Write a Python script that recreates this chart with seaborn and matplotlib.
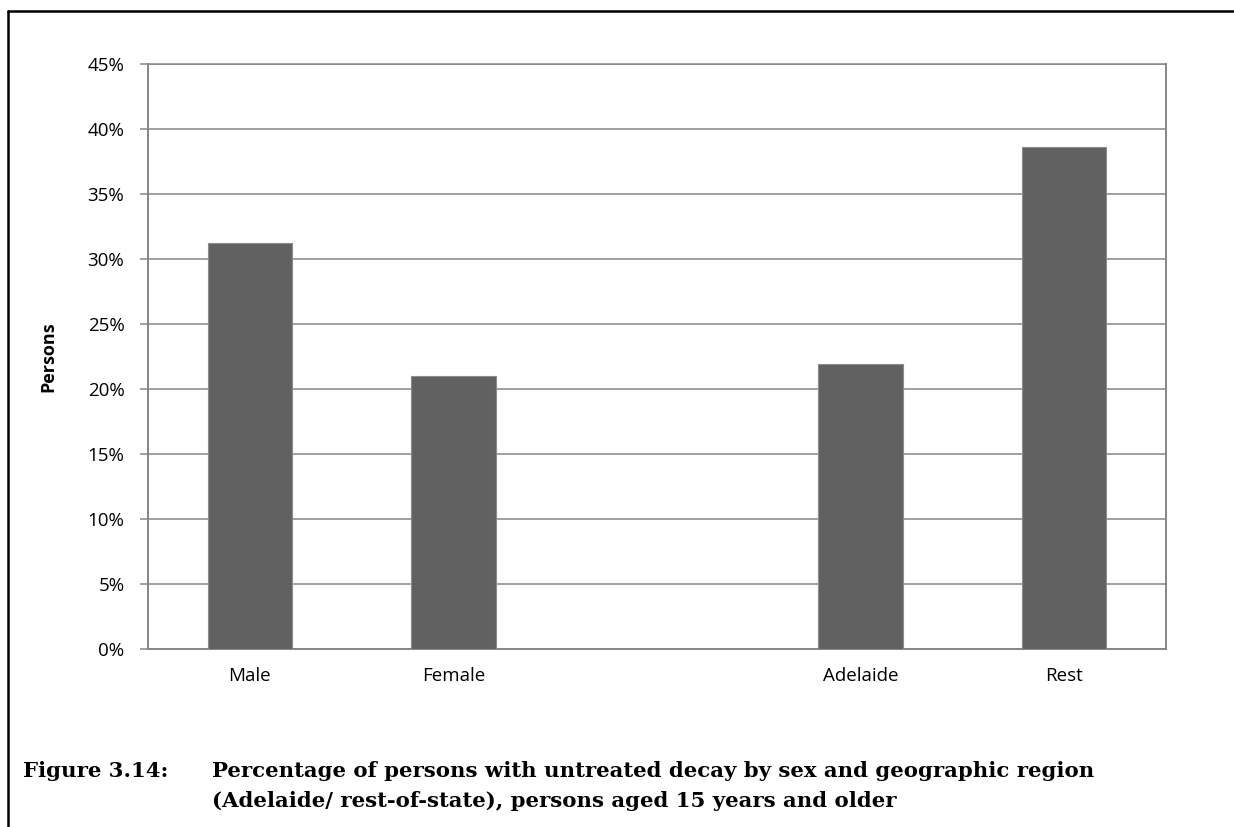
import matplotlib
matplotlib.use("Agg")
import matplotlib.pyplot as plt
import matplotlib.ticker as mticker
from matplotlib.lines import Line2D
import seaborn as sns
import numpy as np

# datos
categories = ["Male", "Female", "Adelaide", "Rest"]
values = [31.2, 21.0, 21.9, 38.6]
order = ["Male", "Female", "", "Adelaide", "Rest"]   # hueco entre sexo y región
y_ticks = [0, 5, 10, 15, 20, 25, 30, 35, 40, 45]

caption_num = "Figure 3.14:"
caption_lines = [
    "Percentage of persons with untreated decay by sex and geographic region",
    "(Adelaide/ rest-of-state), persons aged 15 years and older",
]

GRAY = "#868686"
BAR = "#616161"
W, H = 1234, 827

sns.set_theme(style="white")
plt.rcParams["font.family"] = ["Open Sans", "DejaVu Sans"]
plt.rcParams["text.color"] = "black"
plt.rcParams["axes.labelcolor"] = "black"

fig = plt.figure(figsize=(W / 100, H / 100), dpi=100)
ax = fig.add_axes([148 / W, (H - 649) / H, 1018 / W, 585 / H])

sns.barplot(x=categories, y=values, order=order, color=BAR, width=0.414,
            edgecolor="#8c8c8c", linewidth=0.8, saturation=1, ax=ax, zorder=3)

ax.set_xlim(-0.5, len(order) - 0.5)
ax.set_ylim(0, 45)
ax.set_yticks(y_ticks)
ax.yaxis.set_major_formatter(mticker.FuncFormatter(lambda v, _: f"{v:.0f}%"))
ax.grid(axis="y", color=GRAY, linewidth=1.1, zorder=0)
ax.set_axisbelow(True)

# ticks del eje x en los límites de categoría
ax.set_xticks(np.arange(-0.5, len(order)), minor=True)
ax.tick_params(axis="x", which="major", length=0, pad=13, labelsize=13.5, colors="black")
ax.tick_params(axis="x", which="minor", length=6, width=1.1, color=GRAY, direction="out")
ax.tick_params(axis="y", length=6, width=1.1, color=GRAY, direction="out",
               pad=11, labelsize=13.5, labelcolor="black", left=True)

for side in ["left", "right", "bottom", "top"]:
    ax.spines[side].set_visible(True)
    ax.spines[side].set_color(GRAY)
    ax.spines[side].set_linewidth(1.4)
ax.spines["top"].set_linewidth(1.1)

ax.set_xlabel("")
ax.set_ylabel("Persons", fontsize=13, fontweight="bold", color="black")
ax.yaxis.set_label_coords((57 - 148) / 1018, 0.5)

# pie de figura
cap_kw = dict(family=["DejaVu Serif"], fontsize=15.3, fontweight="bold",
              va="baseline", color="black")
fig.text(23 / W, 1 - 777 / H, caption_num, **cap_kw)
fig.text(212 / W, 1 - 777 / H, caption_lines[0], **cap_kw)
fig.text(212 / W, 1 - 807 / H, caption_lines[1], **cap_kw)

# marco negro (izquierda y arriba)
fig.add_artist(Line2D([8 / W, 8 / W], [0, 1 - 11 / H], transform=fig.transFigure,
                      color="black", linewidth=1.8))
fig.add_artist(Line2D([8 / W, 1], [1 - 11 / H, 1 - 11 / H], transform=fig.transFigure,
                      color="black", linewidth=1.8))

fig.savefig("out.png", dpi=100)
plt.close(fig)
